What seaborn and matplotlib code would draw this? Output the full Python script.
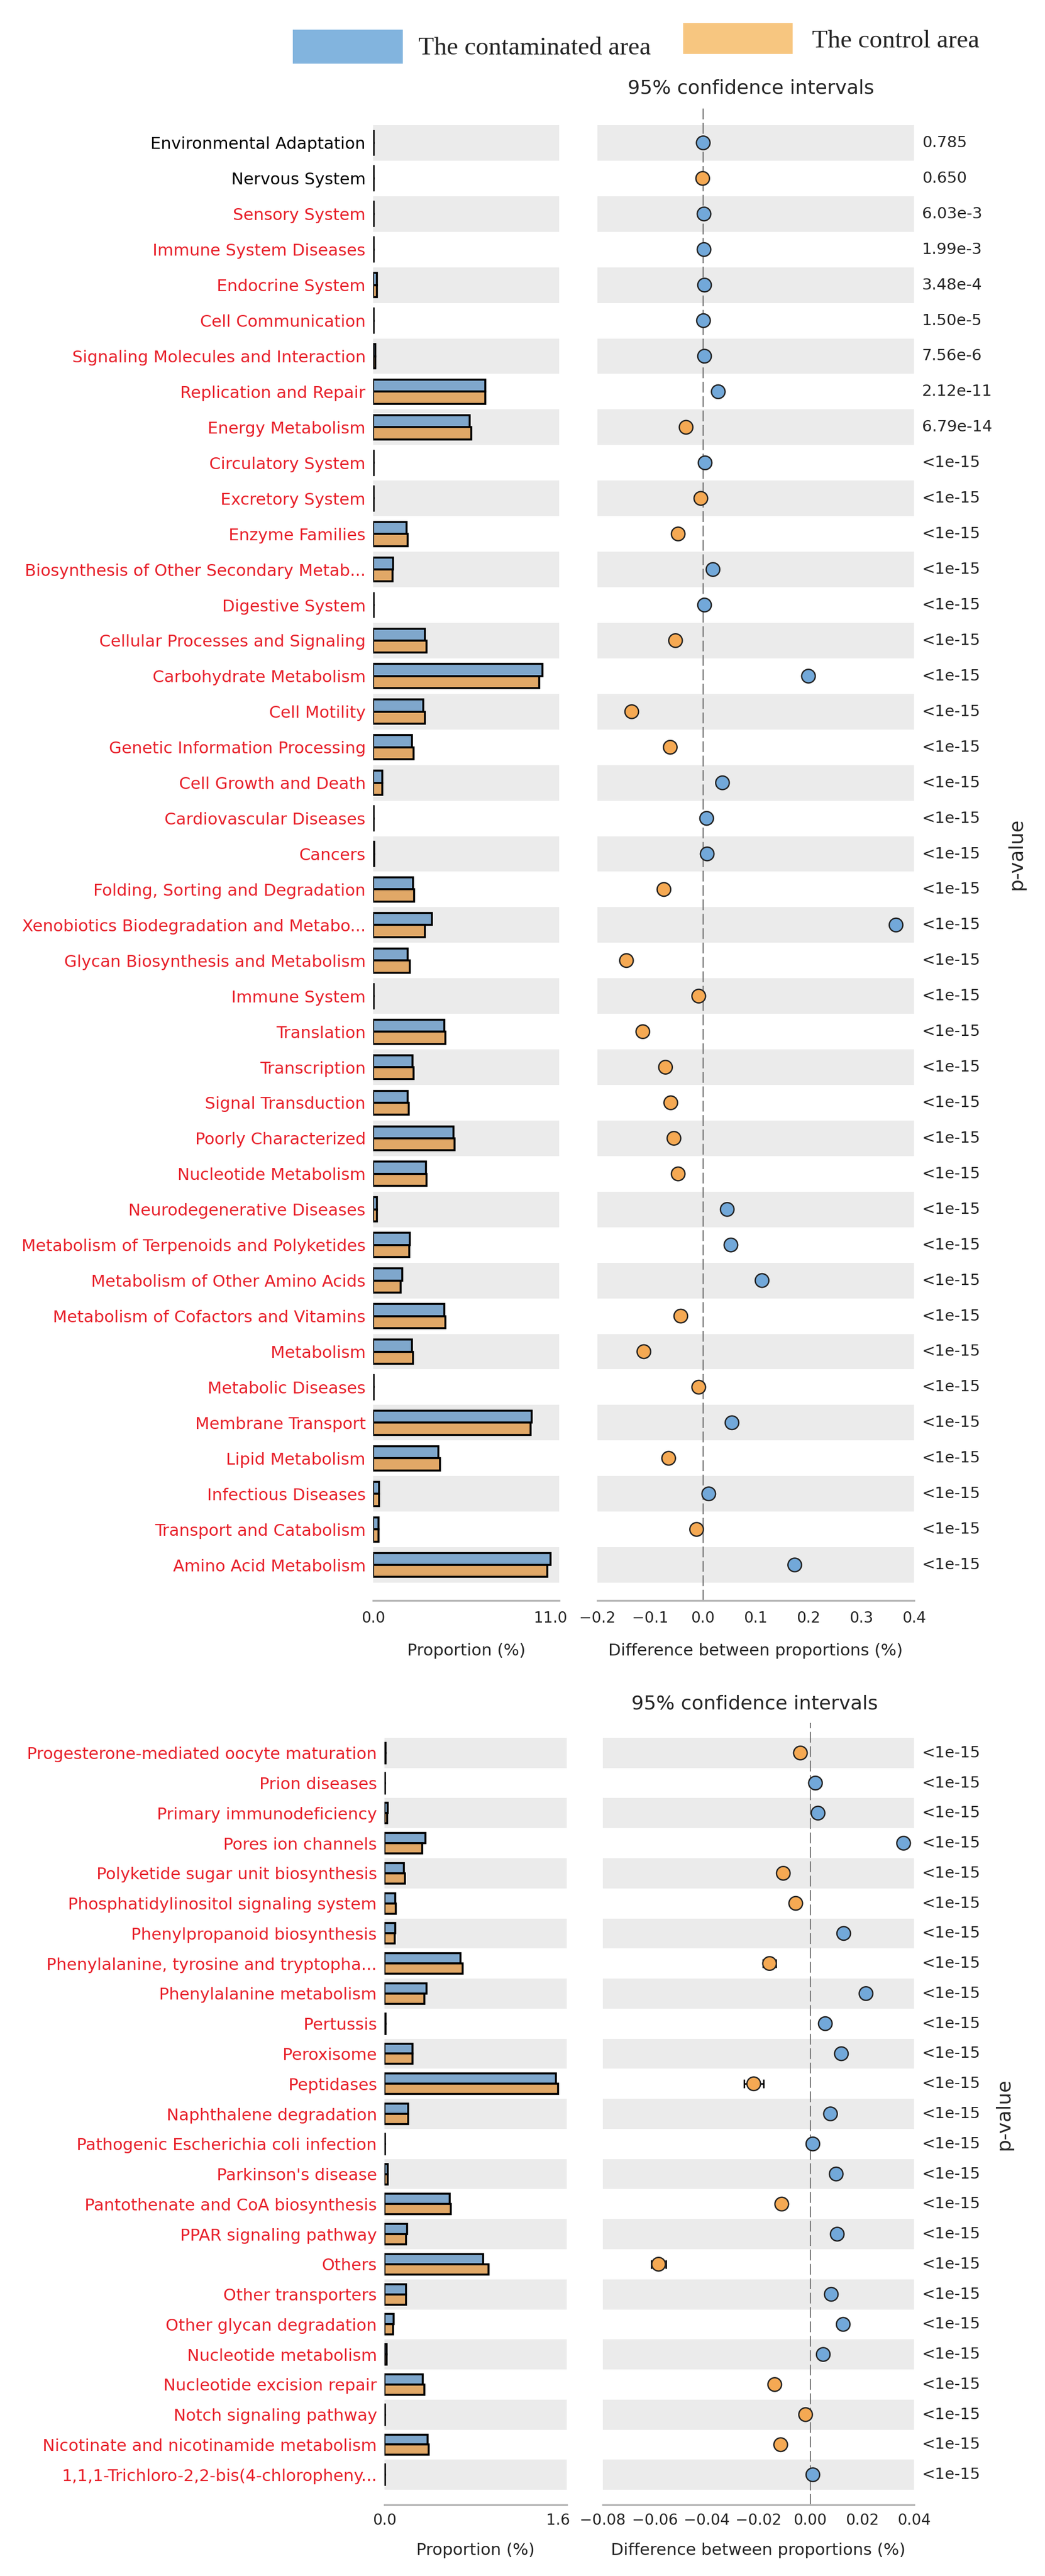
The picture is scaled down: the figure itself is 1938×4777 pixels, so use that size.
import matplotlib
matplotlib.use("Agg")
import matplotlib.pyplot as plt
import numpy as np
import pandas as pd
import seaborn as sns
from matplotlib.patches import Rectangle
from matplotlib.ticker import FuncFormatter

W, H = 1938, 4777

BLUE = "#72a8d9"
ORANGE = "#f5a953"
RED = "#e8212b"
BAND = "#ebebeb"
GROUPS = ["The contaminated area", "The control area"]

# ---- upper panel (KEGG level 2) ----
top_names = [
    "Environmental Adaptation", "Nervous System", "Sensory System", "Immune System Diseases",
    "Endocrine System", "Cell Communication", "Signaling Molecules and Interaction",
    "Replication and Repair", "Energy Metabolism", "Circulatory System", "Excretory System",
    "Enzyme Families", "Biosynthesis of Other Secondary Metab...", "Digestive System",
    "Cellular Processes and Signaling", "Carbohydrate Metabolism", "Cell Motility",
    "Genetic Information Processing", "Cell Growth and Death", "Cardiovascular Diseases",
    "Cancers", "Folding, Sorting and Degradation", "Xenobiotics Biodegradation and Metabo...",
    "Glycan Biosynthesis and Metabolism", "Immune System", "Translation", "Transcription",
    "Signal Transduction", "Poorly Characterized", "Nucleotide Metabolism",
    "Neurodegenerative Diseases", "Metabolism of Terpenoids and Polyketides",
    "Metabolism of Other Amino Acids", "Metabolism of Cofactors and Vitamins", "Metabolism",
    "Metabolic Diseases", "Membrane Transport", "Lipid Metabolism", "Infectious Diseases",
    "Transport and Catabolism", "Amino Acid Metabolism",
]
top_contam = [0.05, 0.03, 0.02, 0.02, 0.25, 0.02, 0.12, 6.95, 6.0, 0.03, 0.03, 2.07, 1.24,
              0.02, 3.2, 10.5, 3.1, 2.4, 0.58, 0.02, 0.07, 2.48, 3.65, 2.15, 0.05, 4.43,
              2.44, 2.15, 5.0, 3.27, 0.25, 2.28, 1.82, 4.43, 2.4, 0.05, 9.85, 4.06, 0.37,
              0.33, 11.0]
top_control = [0.05, 0.03, 0.02, 0.02, 0.25, 0.02, 0.12, 6.95, 6.08, 0.03, 0.03, 2.15, 1.2,
               0.02, 3.3, 10.3, 3.2, 2.5, 0.58, 0.02, 0.07, 2.55, 3.23, 2.27, 0.05, 4.5,
               2.52, 2.2, 5.05, 3.3, 0.25, 2.24, 1.70, 4.47, 2.48, 0.05, 9.77, 4.14, 0.37,
               0.33, 10.8]
top_diff = [0.0005, -0.0005, 0.002, 0.002, 0.003, 0.001, 0.003, 0.029, -0.032, 0.004, -0.004,
            -0.047, 0.019, 0.003, -0.052, 0.2, -0.135, -0.062, 0.037, 0.007, 0.008, -0.074,
            0.366, -0.145, -0.008, -0.114, -0.071, -0.061, -0.055, -0.047, 0.046, 0.053,
            0.112, -0.042, -0.112, -0.008, 0.055, -0.065, 0.011, -0.012, 0.174]
top_ci = [0.002, 0.002, 0.002, 0.002, 0.002, 0.002, 0.002, 0.004, 0.004, 0.002, 0.002, 0.003,
          0.003, 0.002, 0.003, 0.006, 0.003, 0.003, 0.002, 0.002, 0.002, 0.003, 0.004, 0.003,
          0.002, 0.004, 0.003, 0.003, 0.004, 0.003, 0.002, 0.003, 0.003, 0.004, 0.003, 0.002,
          0.005, 0.004, 0.002, 0.002, 0.006]
top_pvals = ["0.785", "0.650", "6.03e-3", "1.99e-3", "3.48e-4", "1.50e-5", "7.56e-6",
             "2.12e-11", "6.79e-14"] + ["<1e-15"] * 32
top_colors = ["black", "black"] + [RED] * 39

# ---- lower panel (KEGG level 3) ----
bot_names = [
    "Progesterone-mediated oocyte maturation", "Prion diseases", "Primary immunodeficiency",
    "Pores ion channels", "Polyketide sugar unit biosynthesis",
    "Phosphatidylinositol signaling system", "Phenylpropanoid biosynthesis",
    "Phenylalanine, tyrosine and tryptopha...", "Phenylalanine metabolism", "Pertussis",
    "Peroxisome", "Peptidases", "Naphthalene degradation",
    "Pathogenic Escherichia coli infection", "Parkinson's disease",
    "Pantothenate and CoA biosynthesis", "PPAR signaling pathway", "Others",
    "Other transporters", "Other glycan degradation", "Nucleotide metabolism",
    "Nucleotide excision repair", "Notch signaling pathway",
    "Nicotinate and nicotinamide metabolism", "1,1,1-Trichloro-2,2-bis(4-chloropheny...",
]
bot_contam = [0.01, 0.005, 0.03, 0.38, 0.18, 0.10, 0.10, 0.70, 0.39, 0.01, 0.26, 1.58, 0.22,
              0.005, 0.03, 0.60, 0.21, 0.91, 0.20, 0.085, 0.02, 0.355, 0.005, 0.40, 0.003]
bot_control = [0.012, 0.005, 0.027, 0.35, 0.19, 0.105, 0.095, 0.72, 0.37, 0.008, 0.26, 1.60,
               0.22, 0.005, 0.028, 0.61, 0.20, 0.96, 0.20, 0.08, 0.018, 0.37, 0.006, 0.41,
               0.003]
bot_diff = [-0.0038, 0.002, 0.003, 0.036, -0.0104, -0.0056, 0.0129, -0.0157, 0.0215, 0.0058,
            0.012, -0.0218, 0.0078, 0.001, 0.010, -0.011, 0.0104, -0.0585, 0.0081, 0.0127,
            0.005, -0.0137, -0.0018, -0.0114, 0.001]
bot_ci = [0.0004, 0.0003, 0.0004, 0.0010, 0.0008, 0.0005, 0.0006, 0.0025, 0.0010, 0.0003,
          0.0008, 0.0038, 0.0008, 0.0002, 0.0004, 0.0014, 0.0008, 0.0028, 0.0008, 0.0006,
          0.0003, 0.0011, 0.0002, 0.0012, 0.0002]
bot_pvals = ["<1e-15"] * 25
bot_colors = [RED] * 25


def box(x0, y0, x1, y1):
    return [x0 / W, 1 - y1 / H, (x1 - x0) / W, (y1 - y0) / H]


def style_axis(ax, pad, labelpad):
    for side in ("left", "top", "right"):
        ax.spines[side].set_visible(False)
    ax.spines["bottom"].set_color("#b3b3b3")
    ax.spines["bottom"].set_linewidth(2.5)
    ax.tick_params(axis="x", direction="in", length=16, width=1.2, color="#9a9a9a",
                   labelsize=20, pad=pad)
    ax.xaxis.label.set_size(22)
    ax.xaxis.labelpad = labelpad


def minus_fmt(decimals):
    return FuncFormatter(lambda v, _: f"{v:.{decimals}f}".replace("-", "\u2212"))


def draw_panel(fig, names, contam, control, diff, ci, pvals, colors, left_box, right_box,
               prop_max, diff_ticks, decimals, pad, labelpad):
    n = len(names)
    rows = np.arange(n)
    ax_bar = fig.add_axes(box(*left_box))
    ax_dif = fig.add_axes(box(*right_box))

    for ax in (ax_bar, ax_dif):
        for i in rows[::2]:
            ax.axhspan(i - 0.5, i + 0.5, color=BAND, lw=0, zorder=0)

    # proportions of each group
    long = pd.DataFrame({
        "Pathway": list(names) * 2,
        "Proportion": list(contam) + list(control),
        "Group": [GROUPS[0]] * n + [GROUPS[1]] * n,
    })
    sns.barplot(data=long, x="Proportion", y="Pathway", hue="Group", hue_order=GROUPS,
                order=names, palette=[BLUE, ORANGE], orient="h", width=0.68,
                edgecolor="black", linewidth=2.6, legend=False, ax=ax_bar)
    ax_bar.set_ylim(n, -1)
    ax_bar.set_xlim(0, prop_max * 1.05)
    ax_bar.set_xticks([0, prop_max])
    ax_bar.xaxis.set_major_formatter(minus_fmt(1))
    ax_bar.set_ylabel("")
    ax_bar.set_xlabel("Proportion (%)")
    ax_bar.tick_params(axis="y", length=0, pad=10, labelsize=22)
    for lab, c in zip(ax_bar.get_yticklabels(), colors):
        lab.set_color(c)
    style_axis(ax_bar, pad, labelpad)

    # difference between proportions with 95% CI
    pts = pd.DataFrame({
        "Difference": diff,
        "Row": rows,
        "Group": [GROUPS[0] if d > 0 else GROUPS[1] for d in diff],
    })
    ax_dif.axvline(0, color="#7a7a7a", lw=1.6, ls=(0, (9, 3)), zorder=1)
    ax_dif.errorbar(diff, rows, xerr=ci, fmt="none", ecolor="black", elinewidth=2,
                    capsize=6, capthick=2, zorder=2)
    sns.scatterplot(data=pts, x="Difference", y="Row", hue="Group", hue_order=GROUPS,
                    palette=[BLUE, ORANGE], s=330, edgecolor="#222222", linewidth=1.8,
                    legend=False, ax=ax_dif, zorder=3)
    ax_dif.set_ylim(n, -1)
    ax_dif.set_xlim(diff_ticks[0], diff_ticks[-1])
    ax_dif.set_xticks(diff_ticks)
    ax_dif.xaxis.set_major_formatter(minus_fmt(decimals))
    ax_dif.set_yticks([])
    ax_dif.set_ylabel("")
    ax_dif.set_xlabel("Difference between proportions (%)")
    style_axis(ax_dif, pad, labelpad)

    trans = ax_dif.get_yaxis_transform()
    for i, p in enumerate(pvals):
        ax_dif.text(1.025, i, p, transform=trans, ha="left", va="center", fontsize=21)
    return ax_bar, ax_dif


sns.set_theme(style="white")
plt.rcParams["font.family"] = ["DejaVu Sans"]

fig = plt.figure(figsize=(W / 100, H / 100), dpi=100, facecolor="white")

draw_panel(fig, top_names, top_contam, top_control, top_diff, top_ci, top_pvals, top_colors,
           (692, 199, 1037, 2968), (1108, 199, 1695, 2968), 11.0,
           [-0.2, -0.1, 0.0, 0.1, 0.2, 0.3, 0.4], 1, 14, 23)
draw_panel(fig, bot_names, bot_contam, bot_control, bot_diff, bot_ci, bot_pvals, bot_colors,
           (713, 3195, 1051, 4645), (1118, 3195, 1695, 4645), 1.6,
           [-0.08, -0.06, -0.04, -0.02, 0.0, 0.02, 0.04], 2, 11, 19)

# legend
fig.add_artist(Rectangle((543 / W, 1 - 118 / H), 204 / W, 63 / H, transform=fig.transFigure,
                         color="#82b4de", lw=0))
fig.add_artist(Rectangle((1267 / W, 1 - 100 / H), 203 / W, 57 / H, transform=fig.transFigure,
                         color="#f7c680", lw=0))
fig.text(776 / W, 1 - 90 / H, GROUPS[0], ha="left", va="center", fontsize=34,
         family=["Liberation Serif", "DejaVu Serif"])
fig.text(1506 / W, 1 - 77 / H, GROUPS[1], ha="left", va="center", fontsize=34,
         family=["Liberation Serif", "DejaVu Serif"])

# titles and p-value labels
fig.text(1393 / W, 1 - 163 / H, "95% confidence intervals", ha="center", va="center", fontsize=26)
fig.text(1400 / W, 1 - 3160 / H, "95% confidence intervals", ha="center", va="center", fontsize=26)
fig.text(1885 / W, 1 - 1583 / H, "p-value", rotation=90, ha="center", va="center", fontsize=26)
fig.text(1862 / W, 1 - 3920 / H, "p-value", rotation=90, ha="center", va="center", fontsize=26)

fig.savefig("out.png", dpi=100, facecolor="white")
